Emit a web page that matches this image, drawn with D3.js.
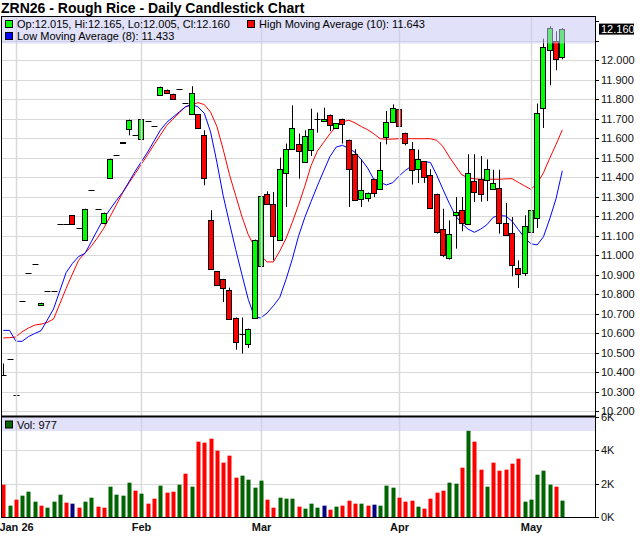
<!DOCTYPE html>
<html><head><meta charset="utf-8">
<script src="https://cdn.jsdelivr.net/npm/d3@7"></script>
<style>
html,body{margin:0;padding:0;background:#fff;}
svg{display:block;font-family:Arial,"Liberation Sans",sans-serif;}
</style></head>
<body>
<svg id="chart" width="640" height="536"></svg>
<script>
const dates = [
"2025-12-30","2025-12-31",
"2026-01-02","2026-01-05","2026-01-06","2026-01-07","2026-01-08","2026-01-09","2026-01-12","2026-01-13","2026-01-14","2026-01-15","2026-01-16","2026-01-20","2026-01-21","2026-01-22","2026-01-23","2026-01-26","2026-01-27","2026-01-28","2026-01-29","2026-01-30",
"2026-02-02","2026-02-03","2026-02-04","2026-02-05","2026-02-06","2026-02-09","2026-02-10","2026-02-11","2026-02-12","2026-02-13","2026-02-17","2026-02-18","2026-02-19","2026-02-20","2026-02-23","2026-02-24","2026-02-25","2026-02-26","2026-02-27",
"2026-03-02","2026-03-03","2026-03-04","2026-03-05","2026-03-06","2026-03-09","2026-03-10","2026-03-11","2026-03-12","2026-03-13","2026-03-16","2026-03-17","2026-03-18","2026-03-19","2026-03-20","2026-03-23","2026-03-24","2026-03-25","2026-03-26","2026-03-27","2026-03-30","2026-03-31",
"2026-04-01","2026-04-02","2026-04-06","2026-04-07","2026-04-08","2026-04-09","2026-04-10","2026-04-13","2026-04-14","2026-04-15","2026-04-16","2026-04-17","2026-04-20","2026-04-21","2026-04-22","2026-04-23","2026-04-24","2026-04-27","2026-04-28","2026-04-29","2026-04-30",
"2026-05-01","2026-05-04","2026-05-05","2026-05-06","2026-05-07","2026-05-08"];

const open = [10.385,10.470,10.282,10.764,10.911,10.954,10.747,10.815,10.819,11.163,11.159,11.205,11.142,11.077,11.337,11.239,11.167,11.398,11.516,11.579,11.650,11.619,11.598,11.687,11.665,11.821,11.850,11.829,11.855,11.781,11.723,11.723,11.619,11.179,10.920,10.879,10.821,10.681,10.595,10.547,10.679,10.945,11.316,11.262,11.077,11.424,11.544,11.573,11.479,11.542,11.697,11.689,11.722,11.653,11.701,11.593,11.521,11.291,11.296,11.393,11.342,11.607,11.684,11.752,11.629,11.547,11.445,11.482,11.414,11.316,11.137,10.988,11.209,11.231,11.163,11.379,11.393,11.388,11.342,11.347,11.168,11.116,10.937,10.911,11.120,11.193,11.757,12.051,12.097,12.015];
const high = [10.445,10.470,10.282,10.764,10.911,10.954,10.757,10.815,10.819,11.163,11.159,11.205,11.142,11.239,11.337,11.239,11.219,11.496,11.516,11.579,11.696,11.619,11.701,11.687,11.665,11.865,11.850,11.829,11.855,11.781,11.867,11.723,11.641,11.231,10.920,10.879,10.834,10.681,10.681,10.624,11.081,11.371,11.328,11.325,11.501,11.573,11.769,11.624,11.641,11.752,11.732,11.757,11.722,11.678,11.701,11.593,11.544,11.492,11.322,11.393,11.581,11.740,11.774,11.752,11.629,11.581,11.542,11.482,11.441,11.316,11.239,11.179,11.299,11.299,11.518,11.518,11.509,11.492,11.439,11.439,11.268,11.196,10.974,11.205,11.277,11.778,12.111,12.176,12.149,12.165];
const low = [10.385,10.470,10.282,10.764,10.911,10.954,10.747,10.815,10.819,11.163,11.159,11.159,11.142,11.077,11.337,11.239,11.159,11.398,11.516,11.574,11.615,11.619,11.598,11.687,11.665,11.821,11.834,11.804,11.855,11.781,11.723,11.655,11.359,10.932,10.846,10.760,10.675,10.516,10.496,10.525,10.679,10.927,11.262,10.974,11.077,11.248,11.544,11.393,11.479,11.509,11.629,11.689,11.637,11.653,11.573,11.248,11.286,11.248,11.275,11.299,11.342,11.569,11.684,11.624,11.564,11.363,11.371,11.371,11.245,11.111,10.991,10.978,11.034,11.123,11.163,11.273,11.275,11.278,11.342,11.111,11.106,10.892,10.832,10.894,11.094,11.140,11.653,11.872,11.949,12.005];
const close = [10.385,10.470,10.282,10.764,10.911,10.954,10.757,10.815,10.819,11.163,11.159,11.159,11.142,11.239,11.337,11.239,11.219,11.496,11.516,11.574,11.696,11.619,11.701,11.687,11.665,11.865,11.834,11.804,11.855,11.781,11.834,11.655,11.398,10.932,10.846,10.834,10.675,10.556,10.595,10.624,11.081,11.303,11.262,11.101,11.445,11.547,11.655,11.535,11.610,11.650,11.697,11.701,11.670,11.678,11.675,11.445,11.286,11.337,11.322,11.322,11.439,11.684,11.757,11.663,11.576,11.436,11.496,11.402,11.245,11.120,11.000,11.111,11.222,11.168,11.424,11.325,11.316,11.441,11.373,11.168,11.106,10.949,10.906,11.150,11.234,11.730,12.068,12.168,12.009,12.160];

const volume = [1930,677,1035,1274,1512,915,677,557,915,1333,856,796,557,915,1154,617,557,1811,1333,1274,2050,1572,1393,796,1095,1871,1453,1512,1930,2587,1811,4497,4438,4677,3960,3244,3662,2348,2468,2229,1751,2169,1035,557,1154,1095,1095,617,498,796,557,
677,438,617,677,975,796,796,677,736,677,1871,1751,1154,915,975,617,498,1095,1453,1572,2050,1990,2945,5154,4497,2826,1811,3244,2766,2826,3184,3483,915,1035,2527,2766,1930,1811,977];
const volDir = ["d","u","d","u","u","u","d","u","u","u","d","n","d","u","u","d","d","u","u","u","u","d","u","d","d","u","d","d","u","d","u","d","d","d","d","d","d","d","u","u","u","u","d","d","u","u","u","d","u","u","u","n","d","u","d","d","d","u","d","n","u","u","u","d","d","d","u","d","d","d","d","u","u","d","u","d","d","u","d","d","d","d","d","u","u","u","u","u","d","u"];

const highMA = [10.576,10.578,10.581,10.608,10.627,10.642,10.647,10.656,10.673,10.751,10.830,10.904,10.975,11.012,11.046,11.090,11.139,11.198,11.259,11.320,11.371,11.419,11.468,11.517,11.567,11.616,11.665,11.698,11.730,11.761,11.771,11.783,11.773,11.734,11.661,11.544,11.415,11.306,11.198,11.106,11.043,10.998,10.966,10.966,11.021,11.085,11.168,11.257,11.354,11.460,11.534,11.579,11.623,11.662,11.684,11.693,11.679,11.660,11.644,11.623,11.598,11.595,11.596,11.598,11.598,11.598,11.598,11.598,11.598,11.590,11.558,11.505,11.458,11.413,11.397,11.392,11.390,11.390,11.390,11.390,11.392,11.393,11.374,11.356,11.338,11.369,11.423,11.498,11.568,11.643];
const lowMA = [10.615,10.615,10.559,10.559,10.583,10.599,10.613,10.668,10.725,10.818,10.911,10.958,10.994,11.009,11.069,11.130,11.189,11.236,11.281,11.323,11.376,11.431,11.481,11.530,11.586,11.641,11.681,11.708,11.735,11.762,11.774,11.761,11.728,11.633,11.478,11.307,11.166,11.030,10.900,10.774,10.683,10.679,10.704,10.741,10.783,10.875,10.979,11.098,11.194,11.276,11.356,11.432,11.506,11.555,11.564,11.549,11.528,11.491,11.448,11.389,11.373,11.361,11.372,11.406,11.435,11.458,11.475,11.481,11.476,11.412,11.338,11.267,11.203,11.163,11.134,11.118,11.134,11.157,11.195,11.204,11.201,11.175,11.132,11.089,11.059,11.053,11.095,11.187,11.290,11.433];

const priceTicks = [10.2,10.3,10.4,10.5,10.6,10.7,10.8,10.9,11.0,11.1,11.2,11.3,11.4,11.5,11.6,11.7,11.8,11.9,12.0,12.1,12.2];
const volTicks = [0,2000,4000,6000];
const volTickLabels = ["0K","2K","4K","6K"];
const monthStarts = ["2026-01-02","2026-02-02","2026-03-02","2026-04-01","2026-05-01"];
const monthLabels = ["Jan 26","Feb","Mar","Apr","May"];

const titleText = "ZRN26 - Rough Rice - Daily Candlestick Chart";

// ---- layout ----
const L = 1, R = 595, PT = 16, SEP = 416.5, VB = 517;
const svg = d3.select("#chart");
const x = d3.scalePoint().domain(dates).range([3.3, 562.3]);
const y = d3.scaleLinear().domain([10.2, 12.0]).range([411.3, 60.3]);
const yv = d3.scaleLinear().domain([0, 6000]).range([VB, SEP]);
const px = d => Math.round(x(d));

const idx = d3.range(dates.length);
const gridC = "#d9d9d9";

// clip paths
const defs = svg.append("defs");
defs.append("clipPath").attr("id","cp").append("rect").attr("x",L).attr("y",PT).attr("width",R-L).attr("height",SEP-PT);
defs.append("clipPath").attr("id","cv").append("rect").attr("x",L).attr("y",SEP).attr("width",R-L).attr("height",VB-SEP);

// horizontal grid price
const gp = svg.append("g").attr("clip-path","url(#cp)");
gp.selectAll("line.h").data(priceTicks.filter(t => t <= 12.1)).join("line")
  .attr("x1",L).attr("x2",R).attr("y1",d=>Math.round(y(d))+0.5).attr("y2",d=>Math.round(y(d))+0.5)
  .attr("stroke",gridC).attr("stroke-width",1.2);
// horizontal grid volume
svg.append("g").selectAll("line").data(volTicks.filter(t=>t>0 && t<6000)).join("line")
  .attr("x1",L).attr("x2",R).attr("y1",d=>Math.round(yv(d))+0.5).attr("y2",d=>Math.round(yv(d))+0.5)
  .attr("stroke",gridC).attr("stroke-width",1.2);
// vertical month grid
svg.append("g").selectAll("line").data(monthStarts).join("line")
  .attr("x1",d=>px(d)+0.5).attr("x2",d=>px(d)+0.5).attr("y1",PT).attr("y2",VB)
  .attr("stroke",gridC).attr("stroke-width",1.5);

// moving averages
const line = arr => d3.line().x((d,i)=>x(dates[i])).y(d=>y(d))(arr);
gp.append("path").attr("d",line(highMA)).attr("fill","none").attr("stroke","#ff0000").attr("stroke-width",1);
gp.append("path").attr("d",line(lowMA)).attr("fill","none").attr("stroke","#0000ff").attr("stroke-width",1);

// candles
const cg = gp.append("g");
idx.forEach(i => {
  const cx = px(dates[i]);
  const o = open[i], h = high[i], l = low[i], c = close[i];
  const g = cg.append("g");
  if (h !== l) {
    g.append("line").attr("x1",cx+0.5).attr("x2",cx+0.5)
      .attr("y1",y(h)).attr("y2",y(l)).attr("stroke","#000").attr("stroke-width",1);
  }
  const yt = Math.round(y(Math.max(o,c))), yb = Math.round(y(Math.min(o,c)));
  if (yb - yt < 1) {
    g.append("line").attr("x1",cx-2.5).attr("x2",cx+3.5).attr("y1",yt+0.5).attr("y2",yt+0.5)
      .attr("stroke","#000").attr("stroke-width",1);
  } else {
    g.append("rect").attr("x",cx-2.5).attr("width",6-1).attr("y",yt+0.5).attr("height",yb-yt)
      .attr("fill", c >= o ? "#00ff00" : "#ff0000").attr("stroke","#000").attr("stroke-width",1);
  }
});

// volume bars
const vcol = {u:"#006400", d:"#ff0000", n:"#000080"};
svg.append("g").attr("clip-path","url(#cv)").selectAll("rect").data(idx).join("rect")
  .attr("x",i=>px(dates[i])-1.5).attr("width",4)
  .attr("y",i=>yv(volume[i])).attr("height",i=>VB-yv(volume[i]))
  .attr("fill",i=>vcol[volDir[i]]);

// legend bands
const bandFill = "rgb(200,200,245)", bandOp = 0.55;
svg.append("rect").attr("x",L).attr("y",PT).attr("width",R-L).attr("height",27.5).attr("fill",bandFill).attr("opacity",bandOp);
svg.append("rect").attr("x",L).attr("y",SEP+1).attr("width",R-L).attr("height",13.5).attr("fill",bandFill).attr("opacity",bandOp);

const last = dates.length - 1;
const f3 = d3.format(".3f");
function legendItem(sx, sy, col, text) {
  svg.append("rect").attr("x",sx+0.5).attr("y",sy+0.5).attr("width",7).attr("height",7)
    .attr("fill",col).attr("stroke","#000").attr("stroke-width",1);
  svg.append("text").attr("x",sx+12).attr("y",sy+8).attr("font-size",11).attr("fill","#000").text(text);
}
legendItem(5, 20, "#00ff00", `Op:${f3(open[last])}, Hi:${f3(high[last])}, Lo:${f3(low[last])}, Cl:${f3(close[last])}`);
legendItem(247, 20, "#ff0000", `High Moving Average (10): ${f3(highMA[last])}`);
legendItem(5, 32, "#0000ff", `Low Moving Average (8): ${f3(lowMA[last])}`);
legendItem(5, 420.5, "#006400", `Vol: ${volume[last]}`);

// frame
svg.append("line").attr("x1",L).attr("x2",R).attr("y1",PT+0.5).attr("y2",PT+0.5).attr("stroke","#000");
svg.append("line").attr("x1",L+0.5).attr("x2",L+0.5).attr("y1",PT).attr("y2",VB).attr("stroke","#000");
svg.append("line").attr("x1",L).attr("x2",R).attr("y1",SEP).attr("y2",SEP).attr("stroke","#000").attr("stroke-width",2);
svg.append("line").attr("x1",L).attr("x2",R+1).attr("y1",VB+0.5).attr("y2",VB+0.5).attr("stroke","#000");
svg.append("line").attr("x1",R+0.5).attr("x2",R+0.5).attr("y1",PT).attr("y2",VB+1).attr("stroke","#000");

// right price axis
const curY = y(close[last]);
const ax = svg.append("g").attr("font-size",11).attr("fill","#111");
priceTicks.forEach(t => {
  const ty = Math.round(y(t)) + 0.5;
  ax.append("line").attr("x1",R).attr("x2",R+4).attr("y1",ty).attr("y2",ty).attr("stroke","#000");
  if (Math.abs(y(t) - curY) >= 12 && ty > PT + 8) {
    ax.append("text").attr("x",R+6).attr("y",ty).attr("dy","0.35em").text(f3(t));
  }
});
volTicks.forEach((t,k) => {
  const ty = Math.round(yv(t)) + 0.5;
  ax.append("line").attr("x1",R).attr("x2",R+4).attr("y1",ty).attr("y2",ty).attr("stroke","#000");
  ax.append("text").attr("x",R+6).attr("y",ty).attr("dy","0.35em").text(volTickLabels[k]);
});
// current price label
svg.append("rect").attr("x",R+4).attr("y",curY-5.5).attr("width",35).attr("height",11).attr("fill","#000");
svg.append("text").attr("x",R+6).attr("y",curY).attr("dy","0.35em").attr("font-size",11).attr("fill","#fff").text(f3(close[last]));

// x axis labels
svg.append("g").selectAll("text").data(monthStarts).join("text")
  .attr("x",d=>px(d)+0.5).attr("y",531).attr("text-anchor","middle")
  .attr("font-size",11).attr("font-weight","bold").attr("fill","#111")
  .text((d,i)=>monthLabels[i]);

// title
svg.append("text").attr("x",1).attr("y",13).attr("font-size",14).attr("font-weight","bold").attr("fill","#000").text(titleText);
</script>
</body></html>
